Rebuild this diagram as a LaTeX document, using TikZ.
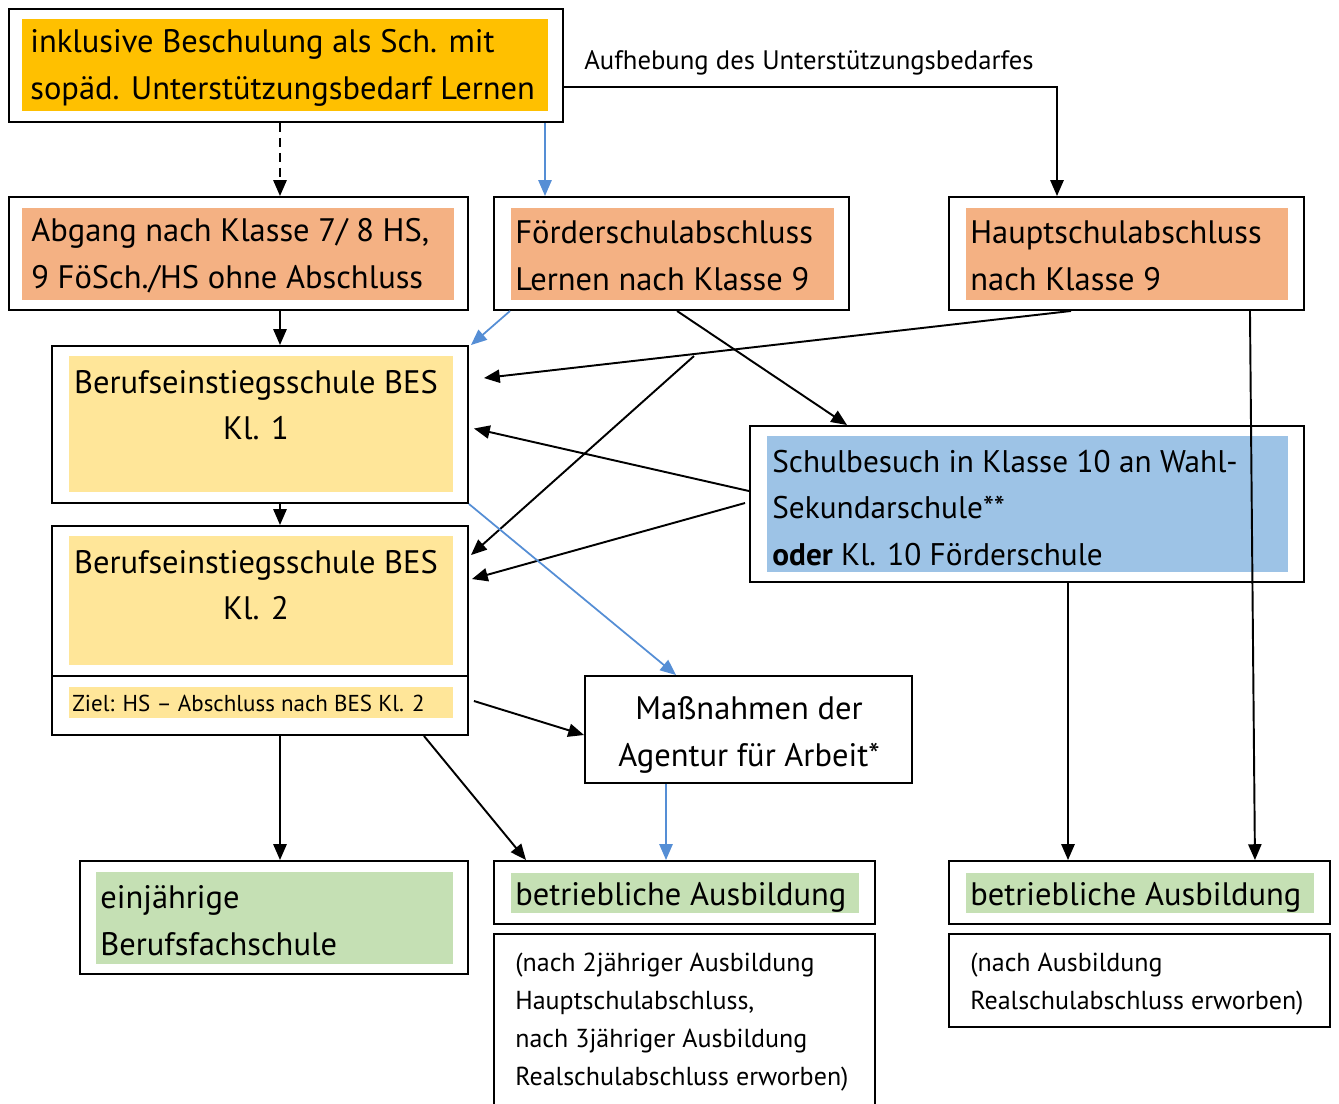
\documentclass[tikz,border=0pt]{standalone}
\usepackage{fontspec}
\setmainfont{PT Sans}
\usetikzlibrary{arrows.meta, positioning, calc, fit}
\definecolor{topgold}{RGB}{255,192,0}
\definecolor{salmon}{RGB}{244,177,131}
\definecolor{paleyellow}{RGB}{255,230,153}
\definecolor{skyblue}{RGB}{157,195,230}
\definecolor{palegreen}{RGB}{197,224,180}
\definecolor{linkblue}{RGB}{85,142,213}

\begin{document}
\begin{tikzpicture}[x=0.02cm, y=-0.02cm,
        frame/.style={draw=black, line width=1.1pt, inner sep=0pt},
        panel/.style={fill=#1, inner sep=0pt},
        maintext/.style={inner sep=0pt, align=left, anchor=west, font=\fontsize{18.5}{26.6}\selectfont},
        smalltext/.style={inner sep=0pt, align=left, anchor=west, font=\fontsize{14.8}{21.5}\selectfont},
        link/.style={line width=1.1pt, -{Triangle[length=9pt,width=7.5pt]}},
        bluelink/.style={linkblue, line width=1pt, -{Triangle[length=9pt,width=7.5pt]}}
    ]
        \useasboundingbox (0,0) rectangle (1339,1103);
        % frames
        \node[frame, fit={(9,9)(563,122)}] (topf) {};
        \node[frame, fit={(9,197)(468,310)}] (abgf) {};
        \node[frame, fit={(494,197)(849,310)}] (foerf) {};
        \node[frame, fit={(949,197)(1304,310)}] (hauptf) {};
        \node[frame, fit={(52,346)(468,503)}] (bes1f) {};
        \node[frame, fit={(52,526)(468,676)}] (bes2f) {};
        \node[frame, fit={(52,676)(468,735)}] (zielf) {};
        \node[frame, fit={(750,426)(1304,582)}] (schulf) {};
        \node[frame, fit={(585,676)(912,783)}] (massf) {};
        \node[frame, fit={(80,861)(468,974)}] (bfsf) {};
        \node[frame, fit={(494,861)(875,924)}] (ausb1f) {};
        \node[frame, fit={(494,934)(875,1120)}] (note1f) {};
        \node[frame, fit={(949,861)(1330,924)}] (ausb2f) {};
        \node[frame, fit={(949,934)(1330,1027)}] (note2f) {};

        % coloured panels
        \node[panel=topgold, fit={(22,19)(548,111)}] (topin) {};
        \node[panel=salmon, fit={(22,208)(454,300)}] (abgin) {};
        \node[panel=salmon, fit={(511,208)(834,300)}] (foerin) {};
        \node[panel=salmon, fit={(966,208)(1288,300)}] (hauptin) {};
        \node[panel=paleyellow, fit={(69,356)(453,492)}] (bes1in) {};
        \node[panel=paleyellow, fit={(69,536)(453,665)}] (bes2in) {};
        \node[panel=paleyellow, fit={(69,687)(453,718)}] (zielin) {};
        \node[panel=skyblue, fit={(767,436)(1288,572)}] (schulin) {};
        \node[panel=palegreen, fit={(96,872)(453,964)}] (bfsin) {};
        \node[panel=palegreen, fit={(511,873)(859,913)}] (ausb1in) {};
        \node[panel=palegreen, fit={(966,873)(1314,913)}] (ausb2in) {};

        % texts
        \node[maintext] (topt) at (30,68) {inklusive Beschulung als Sch. mit\\sopäd. Unterstützungsbedarf Lernen};
        \node[maintext] (abgt) at (31,256) {Abgang nach Klasse 7/ 8 HS,\\9 FöSch./HS ohne Abschluss};
        \node[maintext] (foert) at (515,256) {Förderschulabschluss\\Lernen nach Klasse 9};
        \node[maintext] (hauptt) at (970,256) {Hauptschulabschluss\\nach Klasse 9};
        \node[maintext, align=center, anchor=center] (bes1t) at (256,405) {Berufseinstiegsschule BES\\Kl. 1};
        \node[maintext, align=center, anchor=center] (bes2t) at (256,585) {Berufseinstiegsschule BES\\Kl. 2};
        \node[maintext, font=\fontsize{13.1}{15}\selectfont] (zielt) at (72,703) {Ziel: HS -- Abschluss nach BES Kl. 2};
        \node[maintext, font=\fontsize{17.8}{26.6}\selectfont] (schult) at (772,508) {Schulbesuch in Klasse 10 an Wahl-\\Sekundarschule**\\\textbf{oder} Kl. 10 Förderschule};
        \node[maintext, align=center, anchor=center] (masst) at (749,735) {Maßnahmen der\\Agentur für Arbeit*};
        \node[maintext] (bfst) at (100,921) {einjährige\\Berufsfachschule};
        \node[maintext] (ausb1t) at (515,897) {betriebliche Ausbildung};
        \node[maintext] (ausb2t) at (970,897) {betriebliche Ausbildung};
        \node[smalltext] (note1t) at (515,1022) {(nach 2jähriger Ausbildung\\Hauptschulabschluss,\\nach 3jähriger Ausbildung\\Realschulabschluss erworben)};
        \node[smalltext] (note2t) at (970,984) {(nach Ausbildung\\Realschulabschluss erworben)};
        \node[smalltext, font=\fontsize{15.2}{21.5}\selectfont] (aufht) at (584,63) {Aufhebung des Unterstützungsbedarfes};

        % guide columns
        \coordinate (xa) at (280,0);
        \coordinate (xb) at (545,0);
        \coordinate (xc) at (1057,0);
        \coordinate (xd) at (666,0);
        \coordinate (xe) at (1068,0);
        \coordinate (fork) at (694,356);

        % connectors
        \draw[link, dash pattern=on 5pt off 3.5pt] (topf.south -| xa) -- (abgf.north -| xa);
        \draw[bluelink] (topf.south -| xb) -- (foerf.north -| xb);
        \draw[link] ($(topf.north east)+(0,79)$) -| (hauptf.north -| xc);
        \draw[link] (abgf.south -| xa) -- (bes1f.north -| xa);
        \draw[bluelink] ($(foerf.south west)+(17,0)$) -- ($(bes1f.north east)+(2,0)$);
        \draw[link] ($(hauptf.south west)+(123,0)$) -- ($(bes1f.north east)+(15,33)$);
        \draw[link] (fork) -- ($(bes2f.north east)+(2,30)$);
        \draw[link] ($(foerf.south west)+(184,0)$) -- ($(schulf.north west)+(98,0)$);
        \draw[link] ($(schulf.north west)+(0,66)$) -- ($(bes1f.east)+(5,4)$);
        \draw[link] ($(schulf.west)+(-4,-1)$) -- ($(bes2f.north east)+(3,54)$);
        \draw[link] (bes1f.south -| xa) -- (bes2f.north -| xa);
        \draw[bluelink] (bes1f.south east) -- ($(massf.north west)+(92,0)$);
        \draw[link] ($(zielf.east)+(5,-4.5)$) -- ($(massf.west)+(0,5.5)$);
        \draw[link] (zielf.south -| xa) -- (bfsf.north -| xa);
        \draw[link] ($(zielf.south east)+(-45,0)$) -- ($(ausb1f.north west)+(33,0)$);
        \draw[bluelink] (massf.south -| xd) -- (ausb1f.north -| xd);
        \draw[link] (schulf.south -| xe) -- (ausb2f.north -| xe);
        \draw[link] ($(hauptf.south east)+(-55,0)$) -- ($(ausb2f.north east)+(-76,0)$);
    \end{tikzpicture}
\end{document}
